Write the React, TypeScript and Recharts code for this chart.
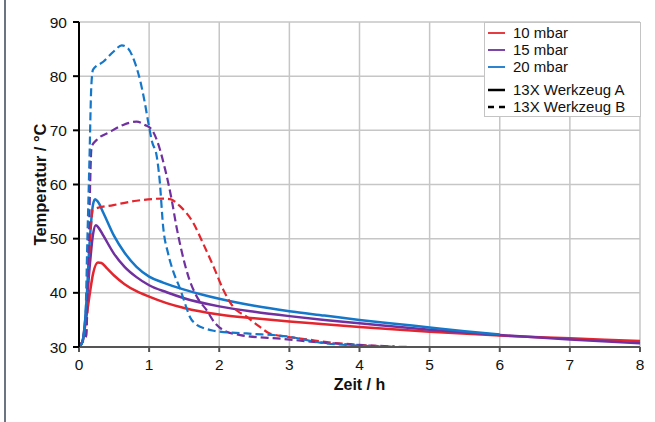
import { LineChart, Line, XAxis, YAxis, CartesianGrid, Legend } from "recharts";

// Zeit [h], Temperatur [°C]
const a10: [number, number][] = [
  [0, 30], [0.05, 31], [0.1, 35], [0.15, 39.5], [0.2, 43.5], [0.27, 45.6], [0.32, 45.5],
  [0.4, 44.5], [0.5, 43.2], [0.65, 41.6], [0.82, 40.3], [1, 39.3], [1.25, 38.1],
  [1.5, 37.2], [2, 36.0], [2.5, 35.3], [3, 34.7], [3.5, 34.2], [4, 33.7], [5, 32.8],
  [6, 32.1], [7, 31.6], [8, 31.1],
];
const a15: [number, number][] = [
  [0, 30], [0.05, 31], [0.1, 36.5], [0.15, 44.5], [0.2, 50.8], [0.24, 52.5], [0.28, 52.0],
  [0.35, 50.5], [0.5, 47.2], [0.65, 44.8], [0.82, 42.9], [1, 41.4], [1.25, 40.1],
  [1.5, 39.0], [2, 37.5], [2.5, 36.5], [3, 35.7], [3.5, 35.0], [4, 34.4], [5, 33.2],
  [6, 32.2], [7, 31.4], [8, 30.7],
];
const a20: [number, number][] = [
  [0, 30], [0.05, 31], [0.1, 37], [0.15, 49], [0.2, 56.3], [0.23, 57.3], [0.27, 56.8],
  [0.35, 54.7], [0.5, 50.5], [0.65, 47.4], [0.82, 44.8], [1, 43.0], [1.2, 41.9],
  [1.5, 40.6], [1.75, 39.7], [2, 38.9], [2.5, 37.6], [3, 36.6], [3.5, 35.8], [4, 35.0],
  [4.5, 34.3], [5, 33.6], [5.5, 32.9], [6, 32.3],
];
const b10: [number, number][] = [
  [0, 30], [0.05, 31], [0.1, 32], [0.14, 45], [0.2, 55.4], [0.49, 56.2], [0.82, 57.0],
  [1.2, 57.4], [1.3, 57.3], [1.44, 56.0], [1.63, 52.9], [1.77, 49.1], [1.92, 44.8],
  [2.06, 40.5], [2.2, 37.4], [2.39, 35.6], [2.58, 33.7], [2.72, 32.5], [2.96, 31.9],
  [3.25, 31.4], [3.6, 30.8], [4, 30.4], [4.5, 30.0],
];
const b15: [number, number][] = [
  [0, 30], [0.05, 31], [0.1, 32], [0.14, 50], [0.18, 67], [0.25, 68.2], [0.44, 69.7],
  [0.63, 71.0], [0.82, 71.6], [0.94, 71.0], [1.04, 70.1], [1.11, 68.2], [1.23, 62.7],
  [1.32, 57.3], [1.39, 52.2], [1.46, 47.9], [1.56, 43.0], [1.68, 39.3], [1.82, 36.8],
  [1.94, 34.4], [2.06, 33.1], [2.3, 32.2], [2.9, 31.5], [3.3, 31.0], [3.8, 30.5], [4.5, 30.1],
];
const b20: [number, number][] = [
  [0, 30], [0.05, 31], [0.09, 35], [0.12, 50], [0.15, 65], [0.175, 78], [0.2, 81.2],
  [0.35, 82.7], [0.49, 84.5], [0.61, 85.7], [0.7, 85.1], [0.8, 82.4], [0.87, 79.3],
  [0.94, 75.0], [0.99, 71.3], [1.04, 68.0], [1.11, 65.1], [1.15, 60.8], [1.2, 52.2],
  [1.27, 47.3], [1.345, 43.9], [1.44, 40.8], [1.51, 38.1], [1.58, 35.6], [1.68, 34.1],
  [1.8, 33.4], [1.92, 33.0], [2.39, 32.5], [3, 31.9], [3.44, 30.8], [4, 30.25], [4.7, 30.0],
];

const xTicks = [0, 1, 2, 3, 4, 5, 6, 7, 8];
const yTicks = [30, 40, 50, 60, 70, 80, 90];

const RED = "#e3262d";
const PURPLE = "#7030a0";
const BLUE = "#1577c9";

const toPts = (arr: [number, number][]) => arr.map(([x, y]) => ({ x, y }));

const series = [
  { name: "10 mbar A", data: a10, color: RED, dash: undefined },
  { name: "15 mbar A", data: a15, color: PURPLE, dash: undefined },
  { name: "20 mbar A", data: a20, color: BLUE, dash: undefined },
  { name: "10 mbar B", data: b10, color: RED, dash: "8 4" },
  { name: "15 mbar B", data: b15, color: PURPLE, dash: "8 4" },
  { name: "20 mbar B", data: b20, color: BLUE, dash: "8 4" },
];

const legendRows = [
  { label: "10 mbar", color: RED, dash: undefined, w: 1.8, gap: 0 },
  { label: "15 mbar", color: PURPLE, dash: undefined, w: 1.8, gap: 0 },
  { label: "20 mbar", color: BLUE, dash: undefined, w: 1.8, gap: 6 },
  { label: "13X Werkzeug A", color: "#000", dash: undefined, w: 2.5, gap: 0 },
  { label: "13X Werkzeug B", color: "#000", dash: "6 5", w: 2.5, gap: 0 },
];

function LegendBox() {
  return (
    <div
      style={{
        width: 155,
        border: "1px solid #c4c4c4",
        background: "#fff",
        padding: "1px 0 1px 0",
        fontSize: 15,
        color: "#111",
        lineHeight: "17px",
      }}
    >
      {legendRows.map((r) => (
        <div
          key={r.label}
          style={{ display: "flex", alignItems: "center", marginBottom: r.gap, whiteSpace: "nowrap" }}
        >
          <svg width={28} height={17} style={{ flex: "none" }}>
            <line
              x1={3}
              x2={20}
              y1={9}
              y2={9}
              stroke={r.color}
              strokeWidth={r.w}
              strokeDasharray={r.dash}
            />
          </svg>
          <span>{r.label}</span>
        </div>
      ))}
    </div>
  );
}

export default function App() {
  return (
    <div
      style={{
        position: "absolute",
        left: 0,
        top: 0,
        width: 655,
        height: 422,
        background: "#fff",
        fontFamily: "'Liberation Sans', Arial, sans-serif",
      }}
    >
      <div
        style={{ position: "absolute", left: 4, top: 0, width: 2, height: 422, background: "#6b7480" }}
      />
      <LineChart
        width={655}
        height={422}
        margin={{ top: 22, right: 15, bottom: 32, left: 34 }}
      >
        <CartesianGrid stroke="#c6c6c6" strokeWidth={1.5} />
        <XAxis
          type="number"
          dataKey="x"
          domain={[0, 8]}
          ticks={xTicks}
          height={43}
          tickSize={5}
          tickMargin={7}
          stroke="#555"
          strokeWidth={2}
          tick={{ fill: "#111", fontSize: 15.5 }}
          label={{
            value: "Zeit / h",
            position: "insideBottom",
            offset: 0,
            style: { fontWeight: "bold", fontSize: 16, fill: "#111" },
          }}
        />
        <YAxis
          type="number"
          domain={[30, 90]}
          ticks={yTicks}
          width={45}
          tickSize={6}
          tickMargin={6}
          stroke="#000"
          strokeWidth={2}
          tick={{ fill: "#111", fontSize: 15.5 }}
          label={{
            value: "Temperatur / °C",
            angle: -90,
            position: "insideLeft",
            offset: 6,
            style: { fontWeight: "bold", fontSize: 16.5, fill: "#111", textAnchor: "middle" },
          }}
        />
        <Legend
          layout="vertical"
          align="center"
          verticalAlign="middle"
          wrapperStyle={{ top: 22, left: 484, width: 157 }}
          content={() => <LegendBox />}
        />
        {series.map((s) => (
          <Line
            key={s.name}
            data={toPts(s.data)}
            dataKey="y"
            type="monotone"
            stroke={s.color}
            strokeWidth={s.dash ? 2.2 : 2.5}
            strokeDasharray={s.dash}
            dot={false}
            activeDot={false}
            isAnimationActive={false}
          />
        ))}
      </LineChart>
    </div>
  );
}
